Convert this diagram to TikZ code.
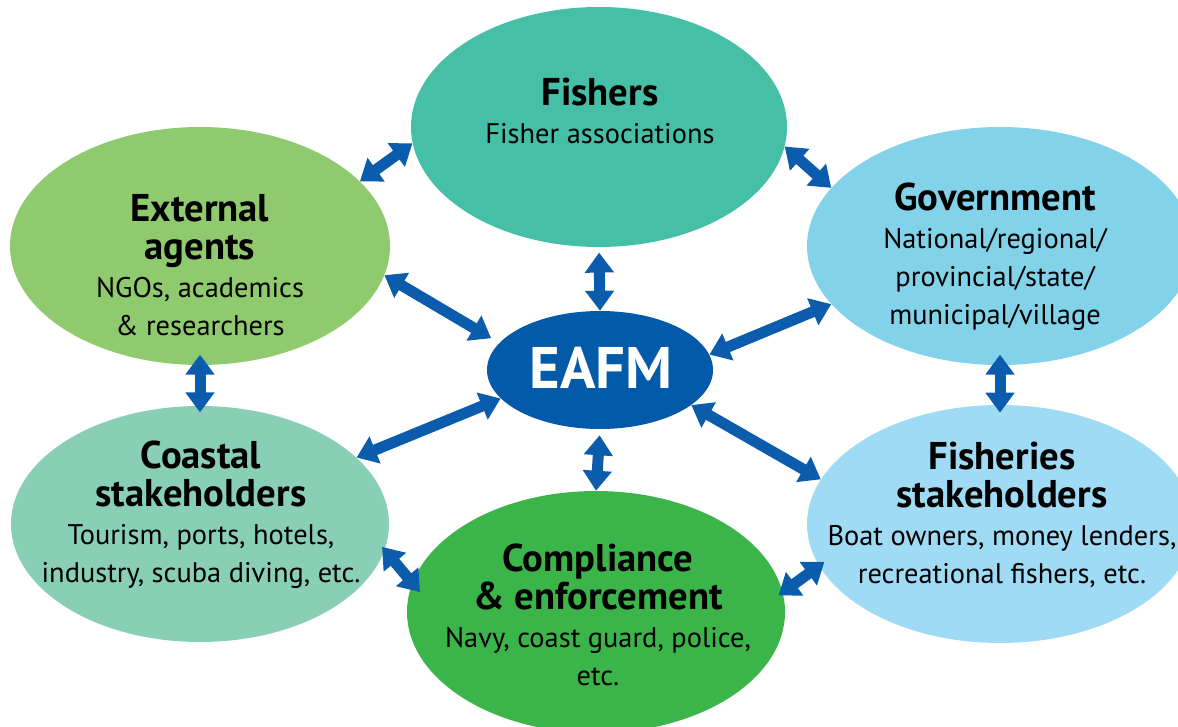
\documentclass[tikz,border=0pt]{standalone}
\usepackage{fontspec}
\setmainfont{PT Sans}
\usetikzlibrary{shapes.geometric,arrows.meta}
\definecolor{cFish}{HTML}{45BFA5}
\definecolor{cExt}{HTML}{8FCB6E}
\definecolor{cGov}{HTML}{82D3E9}
\definecolor{cCoast}{HTML}{88CFB6}
\definecolor{cFishSt}{HTML}{9FDBF5}
\definecolor{cComp}{HTML}{3BB54A}
\definecolor{cEafm}{HTML}{035AA8}
\definecolor{cArrow}{HTML}{0B5CAD}
\newcommand\hdfont{\fontsize{29pt}{28.5pt}\selectfont\bfseries}
\newcommand\bdfont{\fontsize{21.3pt}{28.5pt}\selectfont}
\begin{document}
\begin{tikzpicture}[x=0.75pt,y=-0.75pt,
  oval/.style={ellipse, draw=none, inner sep=0pt},
  lbl/.style={align=center, font=\bdfont, text=black, inner sep=0pt},
  biarrow/.style={draw=cArrow, line width=8.25pt,
    {Triangle[length=15pt 0, width=21pt 0]}-{Triangle[length=15pt 0, width=21pt 0]}}]
\useasboundingbox (0,0) rectangle (1178,727);
% ellipses
\node[oval, fill=cFish, minimum width=376*0.75pt, minimum height=240*0.75pt] (fish) at (599,127) {};
\node[oval, fill=cExt, minimum width=380*0.75pt, minimum height=238*0.75pt] (ext) at (200,246) {};
\node[oval, fill=cGov, minimum width=386*0.75pt, minimum height=238*0.75pt] (gov) at (1000,246) {};
\node[oval, fill=cCoast, minimum width=378*0.75pt, minimum height=236*0.75pt] (coast) at (200,524) {};
\node[oval, fill=cFishSt, minimum width=386*0.75pt, minimum height=238*0.75pt] (fishst) at (1000,524) {};
\node[oval, fill=cComp, minimum width=378*0.75pt, minimum height=242*0.75pt] (comp) at (596,612) {};
\node[oval, fill=cEafm, minimum width=226*0.75pt, minimum height=118*0.75pt] (eafm) at (600,370) {};
% labels
\node[lbl] (tfish) at (600,111) {{\hdfont Fishers}\\Fisher associations};
\node[lbl] (text) at (200,265) {{\hdfont External}\\{\hdfont agents}\\NGOs, academics\\\& researchers};
\node[lbl] (tgov) at (995,257) {{\hdfont Government}\\National/regional/\\provincial/state/\\municipal/village};
\node[lbl] (tcoast) at (201,515) {{\hdfont Coastal}\\{\hdfont stakeholders}\\Tourism, ports, hotels,\\industry, scuba diving, etc.};
\node[lbl] (tfishst) at (1002,515) {{\hdfont Fisheries}\\{\hdfont stakeholders}\\Boat owners, money lenders,\\recreational fishers, etc.};
\node[lbl] (tcomp) at (598,615) {{\hdfont Compliance}\\{\hdfont \& enforcement}\\Navy, coast guard, police,\\etc.};
\node[lbl, text=white, font=\fontsize{44pt}{44pt}\selectfont\bfseries] (teafm) at (601,368) {EAFM};
% connectors
\draw[biarrow] (ext.22.5) -- (fish.185.3);
\draw[biarrow, shorten >=7pt] (ext.-9.4) -- (eafm.165.2);
\draw[biarrow, shorten <=4pt] (fish.south) -- (eafm.north);
\draw[biarrow] (fish.-6.7) -- (gov.161.4);
\draw[biarrow] (gov.199.5) -- (eafm.8.6);
\draw[biarrow, shorten <=-8pt, shorten >=-6pt] (gov.south) -- (fishst.north);
\draw[biarrow, shorten <=-8pt, shorten >=-5pt] (ext.south) -- (coast.north);
\draw[biarrow] (eafm.196.7) -- (coast.23);
\draw[biarrow, shorten <=4.5pt] (eafm.south) -- (comp.north);
\draw[biarrow] (eafm.-21.8) -- (fishst.166.9);
\draw[biarrow, shorten <=-3pt, shorten >=-9pt] (coast.-8.9) -- (comp.171.5);
\draw[biarrow, shorten <=-4pt, shorten >=-5pt] (comp.6.6) -- (fishst.193.5);
\end{tikzpicture}
\end{document}
